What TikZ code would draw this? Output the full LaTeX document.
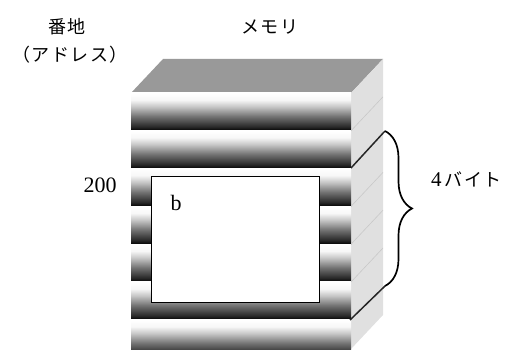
\documentclass[tikz,border=0pt]{standalone}
\usepackage{fontspec}
\setmainfont{Liberation Serif}
\newfontfamily\cjk[LetterSpace=8]{Noto Sans CJK JP}
\usetikzlibrary{decorations.pathreplacing}
\definecolor{topgray}{RGB}{153,153,153}
\definecolor{sidegray}{RGB}{224,224,224}
\definecolor{faint}{RGB}{200,200,200}
\pgfdeclareverticalshading{slabshade}{100bp}{color(0bp)=(black); color(25bp)=(black); color(30bp)=(black!85); color(44bp)=(black!55); color(57bp)=(black!22); color(66bp)=(black!3); color(75bp)=(white); color(100bp)=(white)}
\begin{document}
\begin{tikzpicture}[x=1pt,y=1pt,
  lbl/.style={inner sep=0pt, font=\fontsize{22}{26}\selectfont},
  jlbl/.style={inner sep=0pt, font=\fontsize{18}{22}\selectfont\cjk},
  slab/.style={shading=slabshade},
  blk/.style={draw=black!85, line width=1.5pt}]
\useasboundingbox (0,0) rectangle (518,350);
\begin{scope}
\clip (0,1) rectangle (518,350);
% top face
\fill[topgray] (131,257) -- (163,291) -- (383,291) -- (351,257) -- cycle;
% side face
\fill[sidegray] (351,257) -- (383,291) -- (383,35) -- (351,1) -- cycle;
% slabs
\foreach \i in {0,...,6}{
  \shade[slab] (131,{257-\i*37.8}) rectangle (351,{257-(\i+1)*37.8});
}
% faint slab edges on side face
\foreach \yy in {219.2,143.6,105.8,68}{
  \draw[faint, line width=0.6pt] (351,\yy) -- (383,\yy+34);
}
\end{scope}
% white cell b
\node[draw=black, line width=1.3pt, fill=white, minimum width=168pt, minimum height=126pt, inner sep=0pt, anchor=south west] (cell) at (151,47) {};
\node[lbl] (b) at (176,147) {b};
% brace endpoints
\coordinate (c1) at (351,182);
\coordinate (b1) at (385,219);
\coordinate (c2) at (350,30);
\coordinate (b2) at (385,64);
\draw[blk] (c1) -- (b1);
\draw[blk] (c2) -- (b2);
\draw[black, line width=1.7pt, decorate, decoration={brace, amplitude=27pt}] (b1) -- (b2);
% labels
\node[jlbl] (addr) at (67,323) {番地};
\node[jlbl] (addr2) at (70,295) {（アドレス）};
\node[jlbl] (mem) at (270,323) {メモリ};
\node[lbl] (n200) at (100,165) {200};
\node[anchor=west, inner sep=0pt] (four) at (431,171) {\fontsize{21}{24}\selectfont 4\hspace{3pt}{\fontsize{18}{22}\selectfont\cjk バイト}};
\end{tikzpicture}
\end{document}
